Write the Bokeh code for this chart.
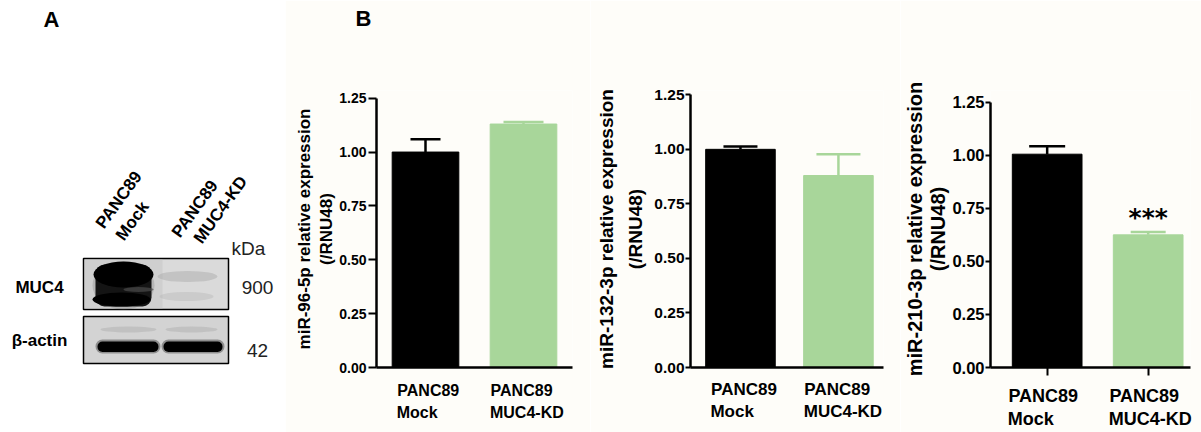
from bokeh.plotting import figure
from bokeh.models import (Range1d, FixedTicker, PrintfTickFormatter, ColumnDataSource,
                          LabelSet, Label, Whisker, TeeHead, Title, LinearAxis)
from bokeh.layouts import row
from bokeh.embed import file_html
from bokeh.resources import INLINE
from bokeh.core.properties import value

# ---------------- data ----------------
categories = ["PANC89\nMock", "PANC89\nMUC4-KD"]
y_ticks = [0.00, 0.25, 0.50, 0.75, 1.00, 1.25]

mir96_mean = [1.00, 1.13]
mir96_err = [0.06, 0.01]
mir132_mean = [1.00, 0.88]
mir132_err = [0.013, 0.098]
mir210_mean = [1.005, 0.625]
mir210_err = [0.037, 0.014]

mir96_sig = ["", ""]
mir132_sig = ["", ""]
mir210_sig = ["", "***"]

y_titles = ["miR-96-5p relative expression\n(/RNU48)",
            "miR-132-3p relative expression\n(/RNU48)",
            "miR-210-3p relative expression\n(/RNU48)"]

panel_letters = ["A", "B"]
blot_lanes = ["PANC89\nMock", "PANC89\nMUC4-KD"]
blot_proteins = ["MUC4", "β-actin"]
blot_kda = ["900", "42"]

# ---------------- style ----------------
FONT = "Liberation Sans"
BAR_COLORS = ["#000000", "#a8d69a"]
CREAM = "#fefdf9"
H = 432
TOP = 90      # common top border (px)
BOTTOM = 65   # common bottom border (px)

# Arial/Liberation bold advance widths (em) used to left-align the two label lines
AW = {"P": .667, "A": .722, "N": .722, "C": .722, "8": .556, "9": .556, "M": .833,
      "o": .611, "c": .556, "k": .556, "U": .722, "4": .556, "-": .333, "K": .722,
      "D": .722}


def text_w(t, fs):
    return sum(AW.get(ch, .6) for ch in t) * fs


def style_axis_common(ax):
    ax.axis_line_width = 2.5
    ax.axis_line_color = "black"
    ax.major_tick_line_width = 2
    ax.major_tick_line_color = "black"
    ax.minor_tick_line_width = 2
    ax.minor_tick_line_color = "black"
    ax.major_tick_in = 0
    ax.minor_tick_in = 0
    ax.minor_tick_out = 0


def add_panel_letter(p, text, offset, line_height):
    # the letter sits on the first line of a 3-line title box, so it rises to the top
    p.add_layout(Title(text=text + "\n\n", align="left", offset=offset, standoff=2,
                       text_font=FONT, text_font_style="bold", text_font_size="22px",
                       text_line_height=line_height, text_color="black"), "above")


def cat_axis_style(ax, fs, standoff):
    ax.major_label_standoff = standoff
    ax.major_label_text_font = FONT
    ax.major_label_text_font_style = "bold"
    ax.major_label_text_font_size = f"{fs}px"
    ax.major_label_text_line_height = 1.0
    ax.major_label_text_color = "black"


def chart(mean, err, sig, ytitle, st):
    xs = [i + 0.5 for i in range(len(categories))]
    p = figure(width=st["w"], height=H, x_range=Range1d(*st["xr"]),
               y_range=Range1d(0, st["ytop"]), output_backend="svg",
               toolbar_location=None, min_border=0)
    p.min_border_left = st["bl"]
    p.min_border_right = st["br"]
    p.min_border_top = TOP
    p.min_border_bottom = BOTTOM
    p.background_fill_color = CREAM
    p.border_fill_color = CREAM
    p.outline_line_color = None
    p.grid.visible = False

    src = ColumnDataSource(dict(
        x=xs, top=mean, up=[m + e for m, e in zip(mean, err)],
        color=BAR_COLORS, sig=sig))

    p.vbar(x="x", top="top", width=st["bw"], fill_color="color",
           line_color="color", source=src)

    for i in range(len(xs)):
        wsrc = ColumnDataSource(dict(x=[xs[i]], lo=[mean[i]], hi=[mean[i] + err[i]]))
        w = Whisker(base="x", lower="lo", upper="hi", source=wsrc, dimension="height",
                    line_color=BAR_COLORS[i], line_width=2.5,
                    upper_head=TeeHead(size=st["caps"][i], line_color=BAR_COLORS[i],
                                       line_width=2.5),
                    lower_head=None, level="overlay")
        p.add_layout(w)

    ya = p.yaxis[0]
    style_axis_common(ya)
    ya.bounds = (y_ticks[0], y_ticks[-1])
    ya.ticker = FixedTicker(ticks=y_ticks)
    ya.formatter = PrintfTickFormatter(format="%.2f")
    ya.major_tick_out = st["tick_out"]
    ya.major_label_standoff = st["lstand"]
    ya.major_label_text_font = FONT
    ya.major_label_text_font_style = "bold"
    ya.major_label_text_font_size = st["tick_fs"]
    ya.major_label_text_color = "black"
    ya.axis_label = ytitle
    ya.axis_label_text_font = FONT
    ya.axis_label_text_font_style = "bold"
    ya.axis_label_text_font_size = st["lab_fs"]
    ya.axis_label_text_line_height = st["lab_lh"]
    ya.axis_label_text_color = "black"
    ya.axis_label_standoff = st["lab_stand"]

    # category labels: line 1 on the main x axis, line 2 on a second axis below it,
    # each line shifted so that both lines start at the same left edge
    scale = (st["w"] - st["bl"] - st["br"]) / (st["xr"][1] - st["xr"][0])
    fs = st["cat_fs"]
    lines = [c.split("\n") for c in categories]
    pos1 = [x + (d + text_w(l[0], fs) / 2) / scale for x, d, l in zip(xs, st["cat_dx"], lines)]
    pos2 = [x + (d + text_w(l[1], fs) / 2) / scale for x, d, l in zip(xs, st["cat_dx"], lines)]

    xa = p.xaxis[0]
    style_axis_common(xa)
    xa.ticker = FixedTicker(ticks=pos1, minor_ticks=xs if st["xticks"] else [])
    xa.major_label_overrides = {x: l[0] for x, l in zip(pos1, lines)}
    xa.major_tick_out = 0
    xa.minor_tick_out = 8 if st["xticks"] else 0
    cat_axis_style(xa, fs, st["cat_s1"])

    xa2 = LinearAxis(ticker=FixedTicker(ticks=pos2),
                     major_label_overrides={x: l[1] for x, l in zip(pos2, lines)},
                     axis_line_color=None, major_tick_out=0, major_tick_in=0,
                     minor_tick_out=0, minor_tick_in=0)
    cat_axis_style(xa2, fs, st["cat_s2"])
    p.add_layout(xa2, "below")

    p.add_layout(LabelSet(x="x", y="up", text="sig", y_offset=st["sig_dy"], source=src,
                          text_align="center", text_baseline="middle",
                          text_font=value("DejaVu Sans"), text_font_style="bold",
                          text_font_size="25px", text_color="black"))
    return p


st1 = dict(w=305, xr=(0.0, 2.0), ytop=1.2857, bl=91, br=18, bw=0.68, tick_out=8,
           lstand=2, tick_fs="14px", lab_fs="17px", lab_lh=1.15, lab_stand=0,
           cat_fs=16, cat_s1=14, cat_s2=2, cat_dx=[-28.8, -33.5], caps=[30, 40],
           xticks=False, sig_dy=12)
st2 = dict(w=310, xr=(-0.01, 1.96), ytop=1.2697, bl=100, br=17, bw=0.71, tick_out=5,
           lstand=1, tick_fs="15.5px", lab_fs="19px", lab_lh=1.4, lab_stand=5,
           cat_fs=17, cat_s1=12, cat_s2=0, cat_dx=[-30, -34.7], caps=[34, 44],
           xticks=False, sig_dy=12)
st3 = dict(w=301, xr=(-0.061, 1.919), ytop=1.3051, bl=90, br=11, bw=0.69, tick_out=5,
           lstand=1, tick_fs="16.5px", lab_fs="20px", lab_lh=1.05, lab_stand=0,
           cat_fs=18, cat_s1=10, cat_s2=0, cat_dx=[-39.4, -39.4], caps=[36, 35],
           xticks=True, sig_dy=14)

p1 = chart(mir96_mean, mir96_err, mir96_sig, y_titles[0], st1)
p2 = chart(mir132_mean, mir132_err, mir132_sig, y_titles[1], st2)
p3 = chart(mir210_mean, mir210_err, mir210_sig, y_titles[2], st3)

add_panel_letter(p1, panel_letters[1], -21, 1.18)

# ---------------- panel A: western blot (page-pixel coordinates) ----------------
pa = figure(width=285, height=H, x_range=Range1d(0, 285), y_range=Range1d(H - BOTTOM, TOP),
            output_backend="svg", toolbar_location=None, min_border=0)
pa.min_border_top = TOP
pa.min_border_bottom = BOTTOM
pa.xaxis.visible = False
pa.yaxis.visible = False
pa.grid.visible = False
pa.outline_line_color = None
pa.background_fill_color = "white"
add_panel_letter(pa, panel_letters[0], 43, 1.16)

# membranes
pa.quad(left=[83, 83], right=[228, 228], top=[258, 316], bottom=[309, 363],
        fill_color=["#dadada", "#d3d3d3"], line_color="black", line_width=1.5)
pa.quad(left=[84], right=[162], top=[259], bottom=[308], fill_color="#c8c8c8",
        fill_alpha=0.6, line_color=None)

# MUC4 lane 1 (strong, smeared)
pa.ellipse(x=[123], y=[285], width=62, height=48, fill_color="#6a6a6a", fill_alpha=0.25,
           line_color=None)
pa.quad(left=[95], right=[151], top=[264], bottom=[306], fill_color="#141414",
        line_color=None, border_radius=9)
pa.ellipse(x=[123], y=[274], width=60, height=26, fill_color="#000000", line_color=None)
pa.ellipse(x=[121], y=[299], width=58, height=14, fill_color="#000000", line_color=None)
pa.ellipse(x=[138], y=[289], width=30, height=5, fill_color="#4a4a4a", fill_alpha=0.7,
           line_color=None)
# MUC4 lane 2 (faint)
pa.ellipse(x=[187], y=[276], width=60, height=11, fill_color="#a6a6a6", fill_alpha=0.45,
           line_color=None)
pa.ellipse(x=[186], y=[296], width=54, height=9, fill_color="#b4b4b4", fill_alpha=0.4,
           line_color=None)

# beta-actin faint upper bands
pa.ellipse(x=[128, 191], y=[329, 329], width=[56, 52], height=6, fill_color="#aaaaaa",
           fill_alpha=0.45, line_color=None)
# beta-actin strong bands
for (l, r) in [(97, 158), (163, 222)]:
    pa.quad(left=[l - 2], right=[r + 2], top=[339], bottom=[353], fill_color="#3a3a3a",
            fill_alpha=0.45, line_color=None, border_radius=7)
    pa.quad(left=[l], right=[r], top=[341], bottom=[351.5], fill_color="#000000",
            line_color=None, border_radius=5)

lane_pos = [[(99, 226), (119, 238)], [(175, 235), (197, 241)]]
for lane, pos in zip(blot_lanes, lane_pos):
    for line, (x, y) in zip(lane.split("\n"), pos):
        pa.add_layout(Label(x=x, y=y, text=line, angle=54, angle_units="deg",
                            text_align="left", text_baseline="middle", text_font=FONT,
                            text_font_style="bold", text_font_size="17px",
                            text_color="black"))

for prot, y in zip(blot_proteins, [287, 340]):
    pa.add_layout(Label(x=39, y=y, text=prot, text_align="center", text_baseline="middle",
                        text_font=FONT, text_font_style="bold", text_font_size="17px",
                        text_color="black"))

pa.add_layout(Label(x=231, y=248, text="kDa", text_align="left", text_baseline="middle",
                    text_font=FONT, text_font_size="19px", text_color="#222222"))
for kda, y in zip(blot_kda, [287, 350]):
    pa.add_layout(Label(x=257, y=y, text=kda, text_align="center", text_baseline="middle",
                        text_font=FONT, text_font_size="19px", text_color="#222222"))

layout = row(pa, p1, p2, p3, spacing=0)
open("out.html", "w").write(file_html(layout, INLINE))
